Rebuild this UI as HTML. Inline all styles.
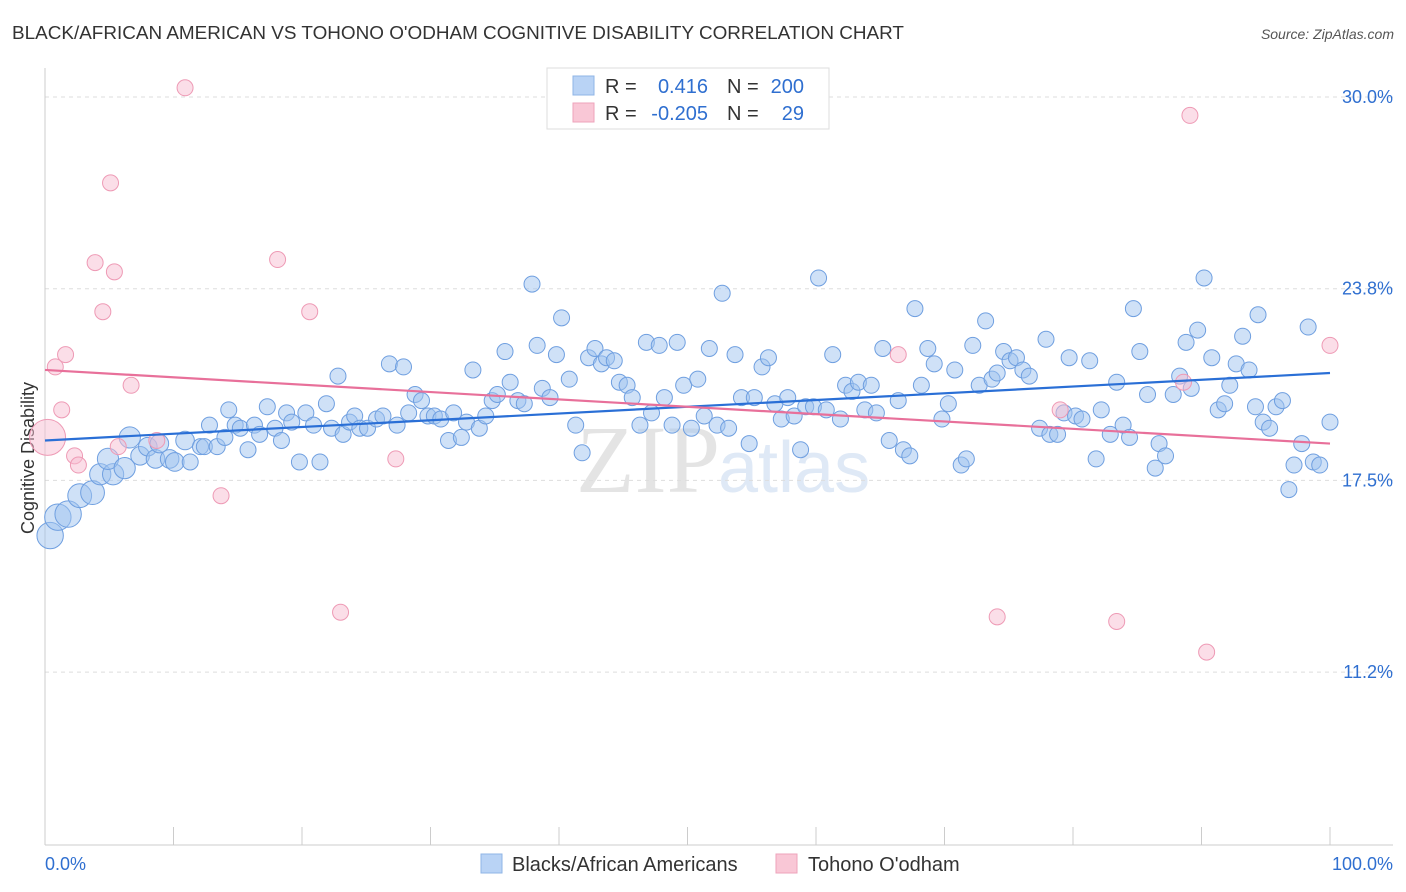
<!DOCTYPE html>
<html><head><meta charset="utf-8"><style>
body{margin:0;background:#fff;font-family:"Liberation Sans",sans-serif;}
#wrap{position:relative;width:1406px;height:892px;overflow:hidden;}
</style></head><body>
<div id="wrap">
<svg id="svg" width="1406" height="892">
<text x="12" y="39" font-size="18.9" fill="#333">BLACK/AFRICAN AMERICAN VS TOHONO O'ODHAM COGNITIVE DISABILITY CORRELATION CHART</text>
<text x="1394" y="39" font-size="14" fill="#555" text-anchor="end" font-style="italic">Source: ZipAtlas.com</text>
<text x="720" y="492" font-size="96" fill="#e4e4e4" text-anchor="end" font-family="Liberation Serif">ZIP</text>
<text x="718" y="492" font-size="72" fill="#dfe9f6">atlas</text>
<text transform="translate(34,458) rotate(-90)" font-size="18" fill="#333" text-anchor="middle">Cognitive Disability</text>
<g id="grid"></g><g id="marks"></g>
<rect x="547" y="68" width="282" height="61" fill="#fff" stroke="#ddd"/>
<rect x="573" y="76" width="21" height="19" fill="#b9d3f5" stroke="#8fb4e6"/>
<rect x="573" y="103" width="21" height="19" fill="#f9c7d6" stroke="#eea3bb"/>
<g font-size="20">
<text x="605" y="93" fill="#333">R =</text><text x="708" y="93" fill="#2f6fd0" text-anchor="end">0.416</text>
<text x="727" y="93" fill="#333">N =</text><text x="804" y="93" fill="#2f6fd0" text-anchor="end">200</text>
<text x="605" y="120" fill="#333">R =</text><text x="708" y="120" fill="#2f6fd0" text-anchor="end">-0.205</text>
<text x="727" y="120" fill="#333">N =</text><text x="804" y="120" fill="#2f6fd0" text-anchor="end">29</text>
</g>
<text x="45" y="870" font-size="18" fill="#2f6fd0">0.0%</text>
<text x="1393" y="870" font-size="18" fill="#2f6fd0" text-anchor="end">100.0%</text>
<rect x="481" y="854" width="21" height="19" fill="#b9d3f5" stroke="#8fb4e6"/>
<text x="512" y="871" font-size="20" fill="#333">Blacks/African Americans</text>
<rect x="776" y="854" width="21" height="19" fill="#f9c7d6" stroke="#eea3bb"/>
<text x="808" y="871" font-size="20" fill="#333">Tohono O'odham</text>
</svg></div>
<script>
const yTicks=[30.0,23.75,17.5,11.25];
const yTickLabels=["30.0%","23.8%","17.5%","11.2%"];
const xTicks=[0,10,20,30,40,50,60,70,80,90,100];
const blueX=[0.4,1.0,1.8,2.7,3.7,4.3,5.3,4.9,6.2,6.6,7.4,8.0,8.6,8.9,9.7,10.1,10.9,11.3,12.1,12.4,12.8,13.4,14.0,14.3,14.8,15.2,15.8,16.3,16.7,17.3,17.9,18.4,18.8,19.2,19.8,20.3,20.9,21.4,21.9,22.3,22.8,23.2,23.7,24.1,24.5,25.1,25.8,26.3,26.8,27.4,27.9,28.3,28.8,29.3,29.8,30.3,30.8,31.4,31.8,32.4,32.8,33.3,33.8,34.3,34.8,35.2,35.8,36.2,36.8,37.3,37.9,38.3,38.7,39.3,39.8,40.2,40.8,41.3,41.8,42.3,42.8,43.3,43.7,44.3,44.7,45.3,45.7,46.3,46.8,47.2,47.8,48.2,48.8,49.2,49.7,50.3,50.8,51.3,51.7,52.3,52.7,53.2,53.7,54.2,54.8,55.2,55.8,56.3,56.8,57.3,57.8,58.3,58.8,59.2,59.8,60.2,60.8,61.3,61.9,62.3,62.8,63.3,63.8,64.3,64.7,65.2,65.7,66.4,66.8,67.3,67.7,68.2,68.7,69.2,69.8,70.3,70.8,71.3,71.7,72.2,72.7,73.2,73.7,74.1,74.6,75.1,75.6,76.1,76.6,77.4,77.9,78.2,78.8,79.3,79.7,80.2,80.7,81.3,81.8,82.2,82.9,83.4,83.9,84.4,84.7,85.2,85.8,86.4,86.7,87.2,87.8,88.3,88.8,89.2,89.7,90.2,90.8,91.3,91.8,92.2,92.7,93.2,93.7,94.2,94.4,94.8,95.3,95.8,96.3,96.8,97.2,97.8,98.3,98.7,99.2,100];
const blueY=[15.7,16.3,16.4,17.0,17.1,17.7,17.7,18.2,17.9,18.9,18.3,18.6,18.2,18.7,18.2,18.1,18.8,18.1,18.6,18.6,19.3,18.6,18.9,19.8,19.3,19.2,18.5,19.3,19.0,19.9,19.2,18.8,19.7,19.4,18.1,19.7,19.3,18.1,20.0,19.2,20.9,19.0,19.4,19.6,19.2,19.2,19.5,19.6,21.3,19.3,21.2,19.7,20.3,20.1,19.6,19.6,19.5,18.8,19.7,18.9,19.4,21.1,19.2,19.6,20.1,20.3,21.7,20.7,20.1,20.0,23.9,21.9,20.5,20.2,21.6,22.8,20.8,19.3,18.4,21.5,21.8,21.3,21.5,21.4,20.7,20.6,20.2,19.3,22.0,19.7,21.9,20.2,19.3,22.0,20.6,19.2,20.8,19.6,21.8,19.3,23.6,19.2,21.6,20.2,18.7,20.2,21.2,21.5,20.0,19.5,20.2,19.6,18.5,19.9,19.9,24.1,19.8,21.6,19.5,20.6,20.4,20.7,19.8,20.6,19.7,21.8,18.8,20.1,18.5,18.3,23.1,20.6,21.8,21.3,19.5,20.0,21.1,18.0,18.2,21.9,20.6,22.7,20.8,21.0,21.7,21.4,21.5,21.1,20.9,19.2,22.1,19.0,19.0,19.7,21.5,19.6,19.5,21.4,18.2,19.8,19.0,20.7,19.3,18.9,23.1,21.7,20.3,17.9,18.7,18.3,20.3,20.9,22.0,20.5,22.4,24.1,21.5,19.8,20.0,20.6,21.3,22.2,21.1,19.9,22.9,19.4,19.2,19.9,20.1,17.2,18.0,18.7,22.5,18.1,18.0,19.4];
const blueWeight=[5,5,5,4,4,3,3,3,3,3,2,2,2,2,2,2,2];
const pinkX=[0.2,0.8,1.3,1.6,2.3,2.6,3.9,4.5,5.1,5.4,5.7,6.7,8.7,10.9,13.7,18.1,20.6,23.0,27.3,66.4,74.1,79.0,83.4,88.6,89.1,90.4,100];
const pinkY=[18.9,21.2,19.8,21.6,18.3,18.0,24.6,23.0,27.2,24.3,18.6,20.6,18.8,30.3,17.0,24.7,23.0,13.2,18.2,21.6,13.05,19.8,12.9,20.7,29.4,11.9,21.9];
const blueTrend=[18.8,21.0];
const pinkTrend=[21.1,18.7];
const X=v=>45+v*12.85, Y=v=>97+(30-v)*30.67;
const NS="http://www.w3.org/2000/svg";
const grid=document.getElementById('grid'), marks=document.getElementById('marks');
function mk(tag,attrs,parent){const e=document.createElementNS(NS,tag);for(const k in attrs)e.setAttribute(k,attrs[k]);parent.appendChild(e);return e;}
yTicks.forEach((t,i)=>{
 const l=mk('line',{x1:45,x2:1393,y1:Y(t),y2:Y(t),stroke:'#ddd','stroke-dasharray':'4 4'},grid);
 
 
 const tx=mk('text',{x:1393,y:Y(t)+6,'font-size':18,fill:'#2f6fd0','text-anchor':'end'},grid);
 tx.textContent=yTickLabels[i];
 
 
});
const ax=mk('line',{x1:45,x2:1393,y1:845,y2:845,stroke:'#ccc'},grid);


const ay=mk('line',{x1:45,x2:45,y1:68,y2:845,stroke:'#ccc'},grid);


xTicks.forEach(t=>{
 const l=mk('line',{x1:X(t),x2:X(t),y1:827,y2:845,stroke:'#ccc'},grid);
 
 
});
blueX.forEach((x,i)=>{
 const w=blueWeight[i]||1;
 const c=mk('circle',{cx:X(x),cy:Y(blueY[i]),r:8+(w-1)*1.3,fill:'rgba(160,195,240,0.5)',stroke:'#6f9fe0','stroke-width':1},marks);
 
 
});
pinkX.forEach((x,i)=>{
 const c=mk('circle',{cx:X(x),cy:Y(pinkY[i]),r:i===0?18:8,fill:'rgba(248,190,210,0.5)',stroke:'#ee9ab5','stroke-width':1},marks);
 
 
});
const bl=mk('line',{x1:X(0),x2:X(100),y1:Y(blueTrend[0]),y2:Y(blueTrend[1]),stroke:'#2a6fd6','stroke-width':2.2},marks);


const pl=mk('line',{x1:X(0),x2:X(100),y1:Y(pinkTrend[0]),y2:Y(pinkTrend[1]),stroke:'#e8709a','stroke-width':2.2},marks);


</script>
</body></html>
